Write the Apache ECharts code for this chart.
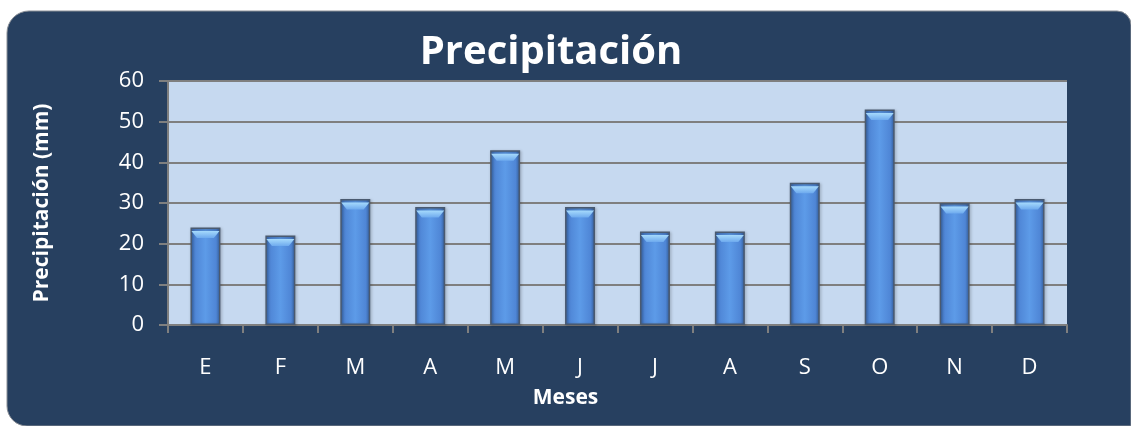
<!DOCTYPE html>
<html>
<head>
<meta charset="utf-8">
<script src="https://cdn.jsdelivr.net/npm/echarts@6/dist/echarts.min.js"></script>
<style>
  html, body { margin: 0; padding: 0; background: #fff; }
  #chart { width: 1131px; height: 426px; }
</style>
</head>
<body>
<div id="chart"></div>
<script>
// Monthly precipitation (mm)
const months = ['E', 'F', 'M', 'A', 'M', 'J', 'J', 'A', 'S', 'O', 'N', 'D']
const rainfall = [24, 22, 31, 29, 43, 29, 23, 23, 35, 53, 30, 31]

const panel = '#274060'
const plotBg = '#c6d9f0'
const gridGray = '#7f7f7f'
const fontFamily = '"Open Sans", "Noto Sans", sans-serif'

const chart = echarts.init(document.getElementById('chart'))

chart.setOption({
  backgroundColor: '#fff',
  textStyle: { fontFamily },
  graphic: [
    {
      type: 'rect', z: -10, silent: true,
      shape: { x: 7, y: 11, width: 1124, height: 415, r: [22, 14, 0, 20] },
      style: { fill: panel, stroke: '#8a8f96', lineWidth: 1 }
    }
  ],
  title: {
    text: 'Precipitación',
    left: 546, top: 28, textAlign: 'center',
    textStyle: { color: '#fff', fontSize: 40, fontWeight: 'bold', fontFamily }
  },
  grid: {
    left: 168, right: 64, top: 81, bottom: 101,
    show: true, backgroundColor: plotBg, borderWidth: 0
  },
  xAxis: {
    type: 'category',
    data: months,
    name: 'Meses',
    nameLocation: 'middle',
    nameGap: 63,
    // the axis title sits a bit left of the plot centre in the original
    nameTextStyle: { color: '#fff', fontSize: 21, fontWeight: 'bold', fontFamily, padding: [0, 104, 0, 0] },
    axisLine: { lineStyle: { color: gridGray, width: 2 } },
    axisTick: { show: true, length: 8, alignWithLabel: false, lineStyle: { color: gridGray, width: 2 } },
    axisLabel: { color: '#fff', fontSize: 22, margin: 32, fontFamily }
  },
  yAxis: {
    type: 'value',
    min: 0, max: 60, interval: 10,
    name: 'Precipitación (mm)',
    nameLocation: 'middle',
    nameGap: 115,
    nameRotate: 90,
    nameTextStyle: { color: '#fff', fontSize: 21, fontWeight: 'bold', fontFamily },
    axisLine: { show: true, lineStyle: { color: gridGray, width: 2 } },
    axisTick: { show: true, length: 9, lineStyle: { color: gridGray, width: 2 } },
    axisLabel: { color: '#fff', fontSize: 22, margin: 24, fontFamily },
    splitLine: { lineStyle: { color: gridGray, width: 2 } }
  },
  series: [
    {
      type: 'bar',
      data: rainfall,
      barWidth: 30,
      itemStyle: {
        color: new echarts.graphic.LinearGradient(0, 0, 1, 0, [
          { offset: 0, color: '#3d6fb8' },
          { offset: 0.15, color: '#4f86d6' },
          { offset: 0.5, color: '#5d9be8' },
          { offset: 0.85, color: '#4f86d6' },
          { offset: 1, color: '#36619f' }
        ]),
        borderColor: '#4a5a70',
        borderWidth: 1.5,
        shadowColor: 'rgba(0,0,0,0.35)',
        shadowBlur: 3,
        shadowOffsetX: 1,
        shadowOffsetY: 1
      }
    },
    {
      // light bevel on the top of each column
      type: 'pictorialBar',
      data: rainfall,
      symbol: 'path://M0,0 L10,0 L8,4 L2,4 Z',
      symbolSize: [28, 7],
      symbolPosition: 'end',
      symbolOffset: [0, '50%'],
      z: 3,
      itemStyle: {
        color: new echarts.graphic.LinearGradient(0, 0, 0, 1, [
          { offset: 0, color: '#a6dafc' },
          { offset: 1, color: '#6eaaee' }
        ])
      },
      silent: true
    }
  ]
})
</script>
</body>
</html>
